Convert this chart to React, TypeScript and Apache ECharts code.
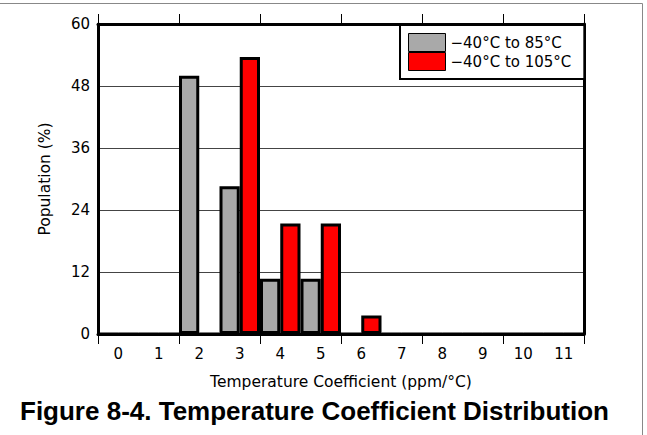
import React, { useEffect, useRef } from "react";
import * as echarts from "echarts";

const categories = ["0", "1", "2", "3", "4", "5", "6", "7", "8", "9", "10", "11"];
const series85 = [0, 0, 50, 28.6, 10.7, 10.7, 0, 0, 0, 0, 0, 0];
const series105 = [0, 0, 0, 53.6, 21.4, 21.4, 3.6, 0, 0, 0, 0, 0];
const seriesNames = ["\u221240\u00b0C to 85\u00b0C", "\u221240\u00b0C to 105\u00b0C"];
const yTicks = { min: 0, max: 60, interval: 12 };
const xAxisName = "Temperature Coefficient (ppm/\u00b0C)";
const yAxisName = "Population (%)";
const figureTitle = "Figure 8-4. Temperature Coefficient Distribution";

const FONT = "DejaVu Sans";

export default function App() {
  const ref = useRef<HTMLDivElement>(null);
  useEffect(() => {
    document.body.style.margin = "0";
    if (!ref.current) return;
    const chart = echarts.init(ref.current, null, { renderer: "svg" });
    const tickEvery2 = (i: number) => i % 2 === 0;
    chart.setOption({
      animation: false,
      backgroundColor: "#fff",
      title: {
        text: figureTitle,
        left: 20,
        top: 398,
        padding: 0,
        textStyle: { fontFamily: "Liberation Sans", fontSize: 26, fontWeight: "bold", color: "#000" },
      },
      legend: {
        orient: "vertical",
        left: 400,
        top: 25,
        itemWidth: 37,
        itemHeight: 18,
        itemGap: 0,
        padding: [8, 13, 8, 8],
        borderColor: "#000",
        borderWidth: 2,
        backgroundColor: "#fff",
        icon: "rect",
        itemStyle: { borderWidth: 1, borderColor: "#000" },
        textStyle: { fontFamily: FONT, fontSize: 15, color: "#000" },
        data: seriesNames,
      },
      grid: { left: 98, top: 24, width: 486, height: 310, containLabel: false },
      xAxis: [
        {
          type: "category",
          data: categories,
          position: "bottom",
          boundaryGap: true,
          axisLine: { show: true, onZero: false, lineStyle: { color: "#000", width: 3 } },
          axisTick: { show: true, interval: tickEvery2, length: 10, lineStyle: { color: "#000", width: 1 } },
          axisLabel: { interval: 0, margin: 12, fontFamily: FONT, fontSize: 15, color: "#000" },
          name: xAxisName,
          nameLocation: "middle",
          nameGap: 40,
          nameTextStyle: { fontFamily: FONT, fontSize: 15.5, color: "#000" },
        },
        {
          type: "category",
          data: categories,
          position: "top",
          boundaryGap: true,
          axisLine: { show: true, onZero: false, lineStyle: { color: "#000", width: 3 } },
          axisTick: { show: true, interval: tickEvery2, length: 10, lineStyle: { color: "#000", width: 1 } },
          axisLabel: { show: false },
        },
      ],
      yAxis: [
        {
          type: "value",
          min: yTicks.min,
          max: yTicks.max,
          interval: yTicks.interval,
          axisLine: { show: true, onZero: false, lineStyle: { color: "#000", width: 3 } },
          axisTick: { show: false },
          axisLabel: { margin: 8, fontFamily: FONT, fontSize: 15, color: "#000" },
          splitLine: { show: true, lineStyle: { color: "#444", width: 1 } },
          name: yAxisName,
          nameLocation: "middle",
          nameGap: 45,
          nameTextStyle: { fontFamily: FONT, fontSize: 15.5, color: "#000" },
        },
        {
          type: "value",
          position: "right",
          min: yTicks.min,
          max: yTicks.max,
          interval: yTicks.interval,
          axisLine: { show: true, onZero: false, lineStyle: { color: "#000", width: 3 } },
          axisTick: { show: false },
          axisLabel: { show: false },
          splitLine: { show: false },
        },
      ],
      series: [
        {
          name: seriesNames[0],
          type: "bar",
          data: series85,
          barGap: "0%",
          barCategoryGap: "0%",
          itemStyle: { color: "#a9a9a9", borderColor: "#000", borderWidth: 3 },
        },
        {
          name: seriesNames[1],
          type: "bar",
          data: series105,
          barGap: "0%",
          barCategoryGap: "0%",
          itemStyle: { color: "#ff0000", borderColor: "#000", borderWidth: 3 },
        },
      ],
      graphic: [
        { type: "line", shape: { x1: 0, y1: 3.5, x2: 642.5, y2: 3.5 }, style: { stroke: "#888", lineWidth: 1 } },
        { type: "line", shape: { x1: 642.5, y1: 3.5, x2: 642.5, y2: 435 }, style: { stroke: "#888", lineWidth: 1 } },
      ],
    });
    return () => chart.dispose();
  }, []);
  return <div ref={ref} style={{ width: 647, height: 435 }} />;
}
